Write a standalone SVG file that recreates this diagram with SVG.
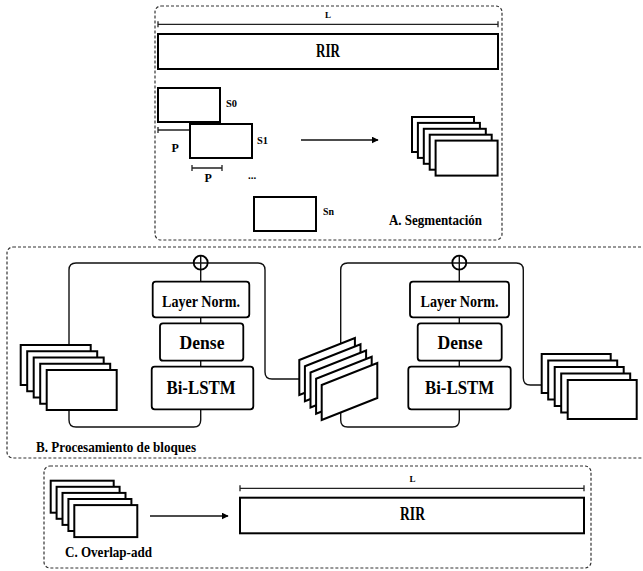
<svg xmlns="http://www.w3.org/2000/svg" width="643" height="571" viewBox="0 0 643 571">
<defs>
<style>
.panel{fill:none;stroke:#333;stroke-width:1.2;stroke-dasharray:3 2}
.box{fill:#fff;stroke:#000;stroke-width:2}
.blk{fill:#fff;stroke:#000;stroke-width:1.8}
.ln{fill:none;stroke:#111;stroke-width:1.4}
.dim{fill:none;stroke:#222;stroke-width:1.3}
.t{font-family:"Liberation Serif","Times New Roman",serif;font-weight:bold;fill:#000}
</style>
<marker id="ah" viewBox="0 0 10 10" refX="9" refY="5" markerWidth="7" markerHeight="7" markerUnits="userSpaceOnUse" orient="auto">
<path d="M0,0 L10,5 L0,10 z" fill="#000"/>
</marker>
<rect id="segA" width="62" height="35"/>
<rect id="segB1" width="70" height="40"/>
<rect id="segB2" width="69" height="39"/>
<rect id="segC" width="63" height="32"/>
<path id="para" d="M0,0 L55.6,-22 L55.6,13 L0,35 Z"/>
</defs>

<!-- panels -->
<g id="panelA">
<rect class="panel" x="155" y="6" width="347" height="234" rx="6"/>
<text class="t" x="389" y="225" font-size="15" textLength="93" lengthAdjust="spacingAndGlyphs">A. Segmentación</text>
</g>
<g id="panelB">
<rect class="panel" x="7" y="247" width="660" height="211" rx="6"/>
<text class="t" x="36" y="451.5" font-size="15" textLength="160" lengthAdjust="spacingAndGlyphs">B. Procesamiento de bloques</text>
</g>
<g id="panelC">
<rect class="panel" x="44" y="466" width="547" height="102" rx="6"/>
<text class="t" x="65" y="556.5" font-size="15" textLength="87" lengthAdjust="spacingAndGlyphs">C. Overlap-add</text>
</g>

<!-- connectors -->
<g id="connectors">
<path class="dim" d="M158,24.3 H498 M158,21.3 V27.3 M498,21.3 V27.3"/>
<path class="dim" d="M158,130 H190 M158,127 V133 M190,127 V133"/>
<path class="dim" d="M192,168 H222 M192,165 V171 M222,165 V171"/>
<line class="ln" x1="301" y1="140" x2="378" y2="140" marker-end="url(#ah)"/>
<path class="ln" d="M69,345 V270 Q69,263 76,263 H258 Q265,263 265,270 V372 Q265,379 272,379 H300"/>
<path class="ln" d="M200.7,409 V420 Q200.7,427 193.7,427 H76 Q69,427 69,420 V410"/>
<path class="ln" d="M200.7,255.7 V281.7 M200.7,317.3 V323.3 M200.7,360.7 V366.7"/>
<path class="ln" d="M340.7,346 V270 Q340.7,263 347.7,263 H516.3 Q523.3,263 523.3,270 V378 Q523.3,385 530.3,385 H542"/>
<path class="ln" d="M459.3,409 V420 Q459.3,427 452.3,427 H347.7 Q340.7,427 340.7,420 V412"/>
<path class="ln" d="M459.3,255.7 V281.7 M459.3,317.3 V323.3 M459.3,360.7 V366.7"/>
<path class="dim" d="M240,488.3 H584 M240,485.3 V491.3 M584,485.3 V491.3"/>
<line class="ln" x1="150" y1="516" x2="228" y2="516" marker-end="url(#ah)"/>
</g>

<!-- A nodes -->
<g id="rirA">
<rect class="box" x="158" y="34" width="340" height="35"/>
<text class="t" x="328" y="57" font-size="18" text-anchor="middle" textLength="24" lengthAdjust="spacingAndGlyphs">RIR</text>
<text class="t" x="328" y="18" font-size="9" text-anchor="middle">L</text>
</g>
<g id="s0">
<rect class="box" x="158" y="88" width="62" height="34"/>
<text class="t" x="226" y="107" font-size="11" textLength="11" lengthAdjust="spacingAndGlyphs">S0</text>
</g>
<g id="s1">
<rect class="box" x="190" y="124" width="62" height="34" stroke-width="2.5"/>
<text class="t" x="257" y="143.5" font-size="11" textLength="11" lengthAdjust="spacingAndGlyphs">S1</text>
<text class="t" x="171.5" y="152" font-size="12">P</text>
<text class="t" x="204.5" y="182" font-size="12">P</text>
<text class="t" x="248" y="179" font-size="11">...</text>
</g>
<g id="sn">
<rect class="box" x="254" y="197" width="62" height="34"/>
<text class="t" x="323" y="215" font-size="11" textLength="11" lengthAdjust="spacingAndGlyphs">Sn</text>
</g>
<g id="stackA">
<use href="#segA" class="box" x="412" y="117"/>
<use href="#segA" class="box" x="417.9" y="122.9"/>
<use href="#segA" class="box" x="423.8" y="128.8"/>
<use href="#segA" class="box" x="429.7" y="134.7"/>
<use href="#segA" class="box" x="435.6" y="140.6"/>
</g>

<!-- B nodes -->
<g id="stackB1">
<use href="#segB1" class="box" x="20.7" y="345"/>
<use href="#segB1" class="box" x="27.2" y="351.25"/>
<use href="#segB1" class="box" x="33.7" y="357.5"/>
<use href="#segB1" class="box" x="40.2" y="363.75"/>
<use href="#segB1" class="box" x="46.7" y="370"/>
</g>
<g id="add1">
<circle class="blk" cx="200.7" cy="262.7" r="7" style="fill:none"/>
</g>
<g id="norm1">
<rect class="blk" x="152.7" y="281.7" width="96.6" height="35.6" rx="3"/>
<text class="t" x="201" y="306.5" font-size="17" text-anchor="middle" textLength="78" lengthAdjust="spacingAndGlyphs">Layer Norm.</text>
</g>
<g id="dense1">
<rect class="blk" x="160" y="323.3" width="83.3" height="37.4" rx="3"/>
<text class="t" x="202" y="349.3" font-size="19" text-anchor="middle" textLength="45" lengthAdjust="spacingAndGlyphs">Dense</text>
</g>
<g id="lstm1">
<rect class="blk" x="151.7" y="366.7" width="101.6" height="42.6" rx="3"/>
<text class="t" x="201" y="394" font-size="18" text-anchor="middle" textLength="69" lengthAdjust="spacingAndGlyphs">Bi-LSTM</text>
</g>
<g id="stackPara">
<use href="#para" class="box" x="299.3" y="360"/>
<use href="#para" class="box" x="304.9" y="366.25"/>
<use href="#para" class="box" x="310.5" y="372.5"/>
<use href="#para" class="box" x="316.1" y="378.75"/>
<use href="#para" class="box" x="321.7" y="385"/>
</g>
<g id="add2">
<circle class="blk" cx="459.3" cy="262.7" r="7" style="fill:none"/>
</g>
<g id="norm2">
<rect class="blk" x="410" y="281.7" width="99" height="35.6" rx="3"/>
<text class="t" x="459.5" y="306.5" font-size="17" text-anchor="middle" textLength="78" lengthAdjust="spacingAndGlyphs">Layer Norm.</text>
</g>
<g id="dense2">
<rect class="blk" x="417.7" y="323.3" width="84" height="37.4" rx="3"/>
<text class="t" x="460" y="349.3" font-size="19" text-anchor="middle" textLength="45" lengthAdjust="spacingAndGlyphs">Dense</text>
</g>
<g id="lstm2">
<rect class="blk" x="408.3" y="366.7" width="102.4" height="42.6" rx="3"/>
<text class="t" x="459.5" y="394" font-size="18" text-anchor="middle" textLength="69" lengthAdjust="spacingAndGlyphs">Bi-LSTM</text>
</g>
<g id="stackB2">
<use href="#segB2" class="box" x="541.7" y="354"/>
<use href="#segB2" class="box" x="548.2" y="360.5"/>
<use href="#segB2" class="box" x="554.7" y="367"/>
<use href="#segB2" class="box" x="561.2" y="373.5"/>
<use href="#segB2" class="box" x="567.7" y="380"/>
</g>

<!-- C nodes -->
<g id="stackC">
<use href="#segC" class="box" x="50.7" y="480.7"/>
<use href="#segC" class="box" x="56.6" y="486.8"/>
<use href="#segC" class="box" x="62.5" y="492.9"/>
<use href="#segC" class="box" x="68.4" y="499"/>
<use href="#segC" class="box" x="74.3" y="505.1"/>
</g>
<g id="rirC">
<rect class="box" x="240" y="497.7" width="344" height="35.6"/>
<text class="t" x="412.5" y="519.5" font-size="18" text-anchor="middle" textLength="25" lengthAdjust="spacingAndGlyphs">RIR</text>
<text class="t" x="412.5" y="482" font-size="9" text-anchor="middle">L</text>
</g>
</svg>
